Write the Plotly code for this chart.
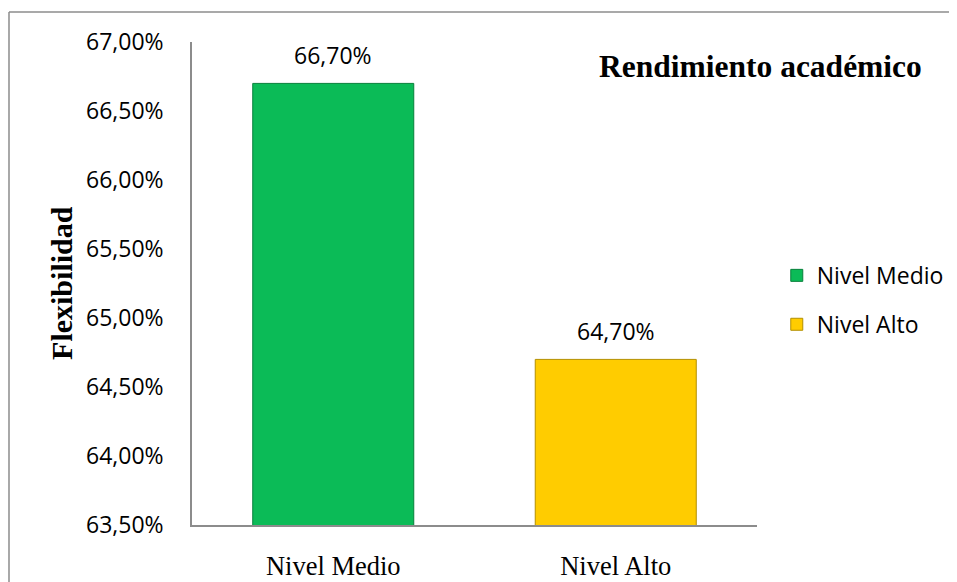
import plotly.graph_objects as go

categories = ["Nivel Medio", "Nivel Alto"]
values = [0.667, 0.647]
colors = ["#0BBB57", "#FFCC00"]
edge_colors = ["#07803B", "#B38F00"]
y_ticks = [0.635, 0.640, 0.645, 0.650, 0.655, 0.660, 0.665, 0.670]

fig = go.Figure()
for cat, val, col, ec in zip(categories, values, colors, edge_colors):
    fig.add_trace(go.Bar(
        x=[cat], y=[val], name=cat, legendgroup=cat,
        marker=dict(color=col, line=dict(color=ec, width=1)),
        width=0.57,
        hoverinfo="skip",
    ))
    fig.add_annotation(
        x=cat, y=val, xref="x", yref="y",
        text=f"{val*100:.2f}%".replace(".", ","),
        showarrow=False, yanchor="bottom", yshift=10,
        font=dict(family="Open Sans", size=23, color="#000000"),
    )

fig.add_annotation(
    x=1.007, y=0.950, xref="paper", yref="paper",
    text="<b>Rendimiento académico</b>", showarrow=False,
    xanchor="center", yanchor="middle",
    font=dict(family="Liberation Serif", size=31.5, color="#000000"),
)
fig.add_annotation(
    x=-0.232, y=0.501, xref="paper", yref="paper",
    text="<b>Flexibilidad</b>", showarrow=False, textangle=-90,
    xanchor="center", yanchor="middle",
    font=dict(family="Liberation Serif", size=30, color="#000000"),
)

# outer frame (top and left edges visible)
fig.add_shape(type="line", xref="paper", yref="paper",
              x0=-0.3239, x1=1.40, y0=1.0621, y1=1.0621,
              line=dict(color="#8C8C8C", width=1.5))
fig.add_shape(type="line", xref="paper", yref="paper",
              x0=-0.3239, x1=-0.3239, y0=1.0621, y1=-0.20,
              line=dict(color="#8C8C8C", width=1.5))

fig.update_layout(
    width=949, height=574,
    margin=dict(l=184, r=200, t=34, b=57, autoexpand=False),
    paper_bgcolor="white", plot_bgcolor="white",
    barmode="overlay",
    separators=",.",
    showlegend=True,
    legend=dict(
        x=1.035, y=0.466, xanchor="left", yanchor="middle",
        font=dict(family="Open Sans", size=23, color="#000000"),
        tracegroupgap=16, bgcolor="rgba(0,0,0,0)",
    ),
    xaxis=dict(
        categoryorder="array", categoryarray=categories,
        showline=True, linecolor="#8C8C8C", linewidth=1.5,
        showgrid=False, ticks="", ticklabelstandoff=16,
        tickfont=dict(family="Liberation Serif", size=26.5, color="#000000"),
    ),
    yaxis=dict(
        range=[0.635, 0.670], tickvals=y_ticks, tickformat=".2%",
        showline=True, linecolor="#8C8C8C", linewidth=1.5,
        showgrid=False, ticks="", ticklabelstandoff=22,
        tickfont=dict(family="Open Sans", size=23, color="#000000"),
        zeroline=False,
    ),
)

fig.write_html("out.html")
